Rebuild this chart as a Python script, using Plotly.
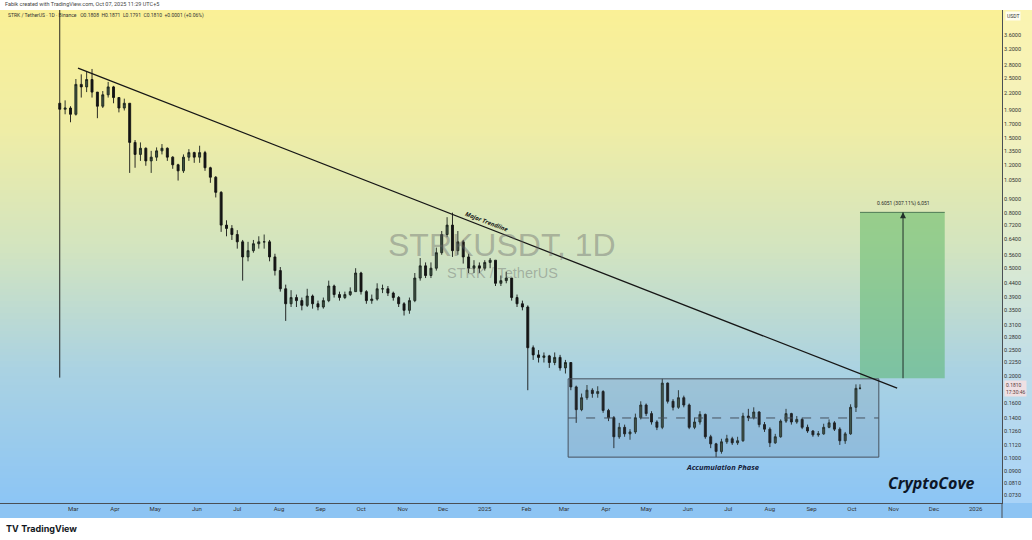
import numpy as np
import pandas as pd
import plotly.graph_objects as go

# ---------------- data ----------------
dates = list(pd.date_range("2024-02-20", periods=149, freq="4D")) + [pd.Timestamp("2025-10-07")]
first_open = 2.02
closes = [
    1.92, 1.94, 1.84, 2.37, 2.32, 2.47, 2.22, 1.97, 2.17, 2.32,
    2.12, 1.94, 2.02, 1.45, 1.31, 1.38, 1.24, 1.28, 1.35, 1.38,
    1.28, 1.20, 1.14, 1.28, 1.33, 1.28, 1.33, 1.17, 1.08, 0.95,
    0.72, 0.70, 0.665, 0.625, 0.55, 0.58, 0.615, 0.625, 0.625, 0.55,
    0.49, 0.42, 0.37, 0.39, 0.38, 0.365, 0.395, 0.37, 0.36, 0.38,
    0.43, 0.40, 0.39, 0.40, 0.41, 0.48, 0.41, 0.38, 0.385, 0.42,
    0.42, 0.405, 0.39, 0.37, 0.35, 0.38, 0.46, 0.51, 0.47, 0.50,
    0.57, 0.665, 0.72, 0.58, 0.625, 0.55, 0.50, 0.51, 0.50, 0.525,
    0.535, 0.44, 0.45, 0.46, 0.39, 0.37, 0.36, 0.255, 0.24, 0.235,
    0.238, 0.225, 0.235, 0.215, 0.225, 0.183, 0.151, 0.167, 0.178, 0.173,
    0.176, 0.15, 0.141, 0.12, 0.13, 0.123, 0.125, 0.141, 0.157, 0.146,
    0.136, 0.13, 0.189, 0.162, 0.154, 0.167, 0.157, 0.13, 0.136, 0.145,
    0.12, 0.113, 0.106, 0.115, 0.118, 0.114, 0.116, 0.143, 0.141, 0.148,
    0.133, 0.128, 0.114, 0.12, 0.137, 0.146, 0.136, 0.139, 0.13, 0.126,
    0.122, 0.123, 0.13, 0.135, 0.128, 0.116, 0.123, 0.154, 0.1808, 0.1810,
]
highs = [
    4.60, 2.07, 1.97, 2.48, 2.58, 2.64, 2.70, 2.22, 2.24, 2.42,
    2.34, 2.12, 2.10, 2.02, 1.48, 1.45, 1.39, 1.35, 1.39, 1.43,
    1.39, 1.29, 1.21, 1.31, 1.37, 1.34, 1.41, 1.35, 1.18, 1.09,
    0.96, 0.75, 0.72, 0.69, 0.635, 0.625, 0.635, 0.655, 0.665, 0.635,
    0.565, 0.505, 0.435, 0.415, 0.40, 0.39, 0.42, 0.40, 0.38, 0.39,
    0.45, 0.435, 0.41, 0.41, 0.425, 0.50, 0.485, 0.415, 0.40, 0.44,
    0.435, 0.43, 0.41, 0.395, 0.375, 0.39, 0.48, 0.545, 0.525, 0.525,
    0.595, 0.685, 0.77, 0.80, 0.685, 0.635, 0.565, 0.535, 0.525, 0.535,
    0.545, 0.535, 0.47, 0.485, 0.46, 0.40, 0.38, 0.365, 0.26, 0.25,
    0.245, 0.24, 0.245, 0.24, 0.23, 0.225, 0.185, 0.173, 0.186, 0.181,
    0.184, 0.178, 0.152, 0.143, 0.135, 0.133, 0.128, 0.146, 0.162, 0.159,
    0.149, 0.138, 0.196, 0.19, 0.165, 0.178, 0.17, 0.159, 0.141, 0.149,
    0.146, 0.122, 0.114, 0.118, 0.122, 0.12, 0.12, 0.147, 0.152, 0.154,
    0.149, 0.136, 0.13, 0.123, 0.139, 0.152, 0.147, 0.143, 0.141, 0.133,
    0.127, 0.126, 0.134, 0.139, 0.137, 0.13, 0.125, 0.158, 0.187, 0.1871,
]
lows = [
    0.198, 1.84, 1.72, 1.82, 2.12, 2.22, 2.12, 1.78, 1.94, 2.12,
    2.02, 1.87, 1.90, 1.12, 1.17, 1.24, 1.19, 1.12, 1.24, 1.31,
    1.24, 1.16, 1.05, 1.12, 1.24, 1.22, 1.22, 1.14, 1.03, 0.91,
    0.68, 0.655, 0.635, 0.59, 0.45, 0.53, 0.57, 0.59, 0.59, 0.53,
    0.47, 0.41, 0.32, 0.36, 0.36, 0.35, 0.36, 0.355, 0.35, 0.355,
    0.375, 0.39, 0.38, 0.385, 0.395, 0.41, 0.40, 0.37, 0.37, 0.38,
    0.405, 0.395, 0.38, 0.36, 0.335, 0.34, 0.375, 0.45, 0.46, 0.46,
    0.49, 0.56, 0.65, 0.55, 0.56, 0.52, 0.48, 0.48, 0.48, 0.49,
    0.50, 0.43, 0.43, 0.44, 0.38, 0.36, 0.35, 0.178, 0.23, 0.225,
    0.225, 0.215, 0.22, 0.21, 0.205, 0.178, 0.135, 0.149, 0.164, 0.167,
    0.167, 0.147, 0.137, 0.109, 0.118, 0.12, 0.117, 0.123, 0.139, 0.143,
    0.133, 0.127, 0.128, 0.159, 0.15, 0.152, 0.154, 0.128, 0.128, 0.133,
    0.118, 0.109, 0.101, 0.104, 0.113, 0.112, 0.112, 0.115, 0.137, 0.139,
    0.13, 0.125, 0.11, 0.113, 0.119, 0.135, 0.133, 0.134, 0.128, 0.124,
    0.12, 0.12, 0.122, 0.129, 0.126, 0.112, 0.113, 0.122, 0.148, 0.1791,
]
opens = [first_open] + closes[:-1]

price_ticks = [3.6, 3.2, 2.8, 2.5, 2.2, 1.9, 1.7, 1.5, 1.35, 1.2, 1.05, 0.9, 0.8,
               0.72, 0.64, 0.56, 0.5, 0.44, 0.39, 0.35, 0.31, 0.28, 0.25, 0.225,
               0.2, 0.16, 0.14, 0.126, 0.112, 0.1, 0.09, 0.081, 0.073]
month_ticks = ["2024-03-01", "2024-04-01", "2024-05-01", "2024-06-01", "2024-07-01",
               "2024-08-01", "2024-09-01", "2024-10-01", "2024-11-01", "2024-12-01",
               "2025-01-01", "2025-02-01", "2025-03-01", "2025-04-01", "2025-05-01",
               "2025-06-01", "2025-07-01", "2025-08-01", "2025-09-01", "2025-10-01",
               "2025-11-01", "2025-12-01", "2026-01-01"]
month_labels = ["Mar", "Apr", "May", "Jun", "Jul", "Aug", "Sep", "Oct", "Nov", "Dec",
                "2025", "Feb", "Mar", "Apr", "May", "Jun", "Jul", "Aug", "Sep", "Oct",
                "Nov", "Dec", "2026"]

trend_dates = ["2024-03-04 14:00", "2025-11-03 15:00"]
trend_prices = [2.72, 0.181]
box_dates = ["2025-03-04", "2025-10-21"]
box_prices = [0.101, 0.196]
box_mid = 0.1407
target_dates = ["2025-10-07", "2025-12-09"]
target_prices = [0.197, 0.802]
target_arrow_date = "2025-11-08"
last_price = 0.1810

# ---------------- layout geometry ----------------
W, H = 1032, 540
ML, MR, MT, MB = 0, 30, 10, 37
PW = W - ML - MR
PH = H - MT - MB


def px(x):
    return (x - ML) / PW


def py(y):
    return (H - MB - y) / PH


fig = go.Figure()

# gradient background (bands)
stops = [(10, (250, 240, 150)), (130, (239, 237, 166)), (250, (210, 228, 192)),
         (370, (170, 210, 226)), (503, (140, 197, 245))]


def col_at(y):
    for (y0, c0), (y1, c1) in zip(stops[:-1], stops[1:]):
        if y0 <= y <= y1:
            t = (y - y0) / (y1 - y0)
            return tuple(int(round(a + (b - a) * t)) for a, b in zip(c0, c1))
    return stops[-1][1]


shapes = []
step = 3
for y in range(10, 503, step):
    c = col_at(y + step / 2)
    shapes.append(dict(type="rect", xref="paper", yref="paper", x0=px(0), x1=px(W),
                       y0=py(min(y + step, 503)), y1=py(y), line=dict(width=0),
                       fillcolor="rgb(%d,%d,%d)" % c, layer="below"))
# axis area tint
shapes.append(dict(type="rect", xref="paper", yref="paper", x0=px(1002), x1=px(W),
                   y0=py(503), y1=py(10), line=dict(width=0),
                   fillcolor="rgba(255,255,255,0.25)", layer="below"))
# time axis band
shapes.append(dict(type="rect", xref="paper", yref="paper", x0=px(0), x1=px(W),
                   y0=py(518), y1=py(503), line=dict(width=0),
                   fillcolor="rgb(141,196,243)", layer="below"))
shapes.append(dict(type="line", xref="paper", yref="paper", x0=px(1002), x1=px(1002),
                   y0=py(518), y1=py(503), line=dict(color="#4a4f55", width=1)))

# accumulation box
fig.add_trace(go.Scatter(
    x=[box_dates[0], box_dates[1], box_dates[1], box_dates[0], box_dates[0]],
    y=[box_prices[0], box_prices[0], box_prices[1], box_prices[1], box_prices[0]],
    mode="lines", fill="toself", fillcolor="rgba(100,115,135,0.15)",
    line=dict(color="#46525e", width=1), hoverinfo="skip", showlegend=False))
fig.add_trace(go.Scatter(
    x=box_dates, y=[box_mid, box_mid], mode="lines",
    line=dict(color="#46525e", width=1, dash="dash"), hoverinfo="skip", showlegend=False))

# target box
fig.add_trace(go.Scatter(
    x=[target_dates[0], target_dates[1], target_dates[1], target_dates[0], target_dates[0]],
    y=[target_prices[0], target_prices[0], target_prices[1], target_prices[1], target_prices[0]],
    mode="lines", fill="toself", fillcolor="rgba(70,175,85,0.45)",
    line=dict(width=0), hoverinfo="skip", showlegend=False))
fig.add_trace(go.Scatter(
    x=target_dates, y=[target_prices[1], target_prices[1]], mode="lines",
    line=dict(color="#4f7a55", width=1), hoverinfo="skip", showlegend=False))
fig.add_trace(go.Scatter(
    x=[target_arrow_date, target_arrow_date], y=target_prices, mode="lines",
    line=dict(color="#22302a", width=1), hoverinfo="skip", showlegend=False))
fig.add_trace(go.Scatter(
    x=[target_arrow_date], y=[target_prices[1]], mode="markers",
    marker=dict(symbol="arrow-up", size=6, color="#22302a"), hoverinfo="skip", showlegend=False))

# candles
fig.add_trace(go.Candlestick(
    x=dates, open=opens, high=highs, low=lows, close=closes,
    increasing=dict(line=dict(color="#1b231d", width=0.9), fillcolor="#3e5544"),
    decreasing=dict(line=dict(color="#141414", width=0.9), fillcolor="#141414"),
    whiskerwidth=0, hoverinfo="skip", showlegend=False))

# major trendline
fig.add_trace(go.Scatter(
    x=trend_dates, y=trend_prices, mode="lines",
    line=dict(color="#161616", width=1.3), hoverinfo="skip", showlegend=False))

ui = "Roboto"
ann = []


def A(**kw):
    kw.setdefault("showarrow", False)
    kw.setdefault("xanchor", "center")
    kw.setdefault("yanchor", "middle")
    ann.append(kw)


# watermark
A(x=px(502), y=py(245), xref="paper", yref="paper", text="STRKUSDT, 1D",
  font=dict(family="Liberation Sans", size=32, color="rgba(105,105,105,0.42)"))
A(x=px(502), y=py(273), xref="paper", yref="paper", text="STRK / TetherUS",
  font=dict(family="Liberation Sans", size=14.5, color="rgba(105,105,105,0.42)"))
# drawings text
A(x="2025-01-02 17:00", y=np.log10(0.739), xref="x", yref="y", text="<b><i>Major Trendline</i></b>",
  textangle=21, font=dict(family="Open Sans", size=6, color="#151515"))
A(x="2025-06-26 12:00", y=np.log10(0.0929), xref="x", yref="y", text="<b><i>Accumulation Phase</i></b>",
  font=dict(family="Open Sans", size=7.5, color="#15213a"))
A(x=target_arrow_date, y=np.log10(target_prices[1]), xref="x", yref="y", yshift=9,
  text="0.6051 (307.11%) 6,051", font=dict(family=ui, size=5, color="#2a2a2a"))
A(x=px(931), y=py(483), xref="paper", yref="paper", text="<b><i>CryptoCove</i></b>",
  font=dict(family="Open Sans", size=16, color="#0d1626"))
# header / footer
A(x=px(3), y=py(4), xref="paper", yref="paper", xanchor="left",
  text="Fabik created with TradingView.com, Oct 07, 2025 11:29 UTC+5",
  font=dict(family=ui, size=5.5, color="#444"))
A(x=px(6), y=py(16), xref="paper", yref="paper", xanchor="left",
  text="STRK / TetherUS · 1D · Binance   O0.1808  H0.1871  L0.1791  C0.1810  +0.0001 (+0.06%)",
  font=dict(family=ui, size=5, color="#333"))
A(x=px(4), y=py(528), xref="paper", yref="paper", xanchor="left",
  text="<b>TV</b> <b>TradingView</b>", font=dict(family="Inter", size=9, color="#131722"))
# axis extras
A(x=px(1013), y=py(16), xref="paper", yref="paper", text="USDT",
  font=dict(family=ui, size=5, color="#333"), bgcolor="rgba(255,255,255,0.8)", borderpad=1)
A(x=px(1004), y=np.log10(last_price), xref="paper", yref="y", xanchor="left",
  text="%.4f<br>17:30:46" % last_price, align="left",
  font=dict(family=ui, size=5, color="#5a3d3d"), bgcolor="#efe0e3", borderpad=1)

fig.update_layout(
    width=W, height=H, margin=dict(l=ML, r=MR, t=MT, b=MB),
    paper_bgcolor="white", plot_bgcolor="rgba(0,0,0,0)",
    shapes=shapes, annotations=ann, showlegend=False,
    xaxis=dict(type="date", range=["2024-01-06 14:00", "2026-01-20 14:00"],
               tickvals=month_ticks, ticktext=month_labels, ticks="",
               showgrid=False, zeroline=False, showline=True, linecolor="#4a4f55", linewidth=1,
               tickfont=dict(family=ui, size=6, color="#333"),
               rangeslider=dict(visible=False), fixedrange=True),
    yaxis=dict(type="log", side="right", range=[-1.1643, 0.6482],
               tickvals=price_ticks, ticktext=["%.4f" % v for v in price_ticks], ticks="",
               showgrid=False, zeroline=False, showline=True, linecolor="#4a4f55", linewidth=1,
               tickfont=dict(family=ui, size=5.5, color="#333"), fixedrange=True),
)

fig.write_html("out.html", config={"displayModeBar": False},
               post_script="document.body.style.margin='0';document.body.style.overflow='hidden';")
